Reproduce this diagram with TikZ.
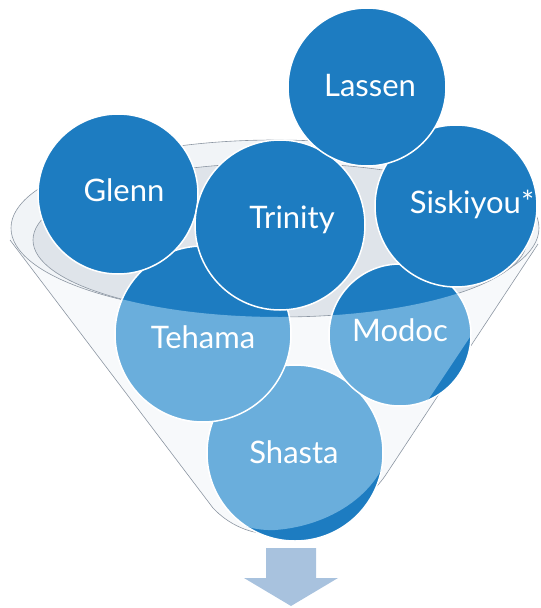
\documentclass[tikz,border=0pt]{standalone}
\usepackage{fontspec}
\setmainfont{Lato}
\usetikzlibrary{positioning}
\definecolor{CountyBlue}{HTML}{1D7CC1}
\definecolor{CountyLight}{HTML}{6AAEDC}
\definecolor{RimGray}{HTML}{8C96A2}
\definecolor{RimFill}{HTML}{DFE4EA}
\definecolor{RimBand}{HTML}{F1F4F7}
\definecolor{GlassFill}{HTML}{F7F9FB}
\definecolor{ArrowBlue}{HTML}{A8C2DE}

\begin{document}
\begin{tikzpicture}[x=1pt, y=-1pt,
    county/.style={font=\fontsize{31}{31}\selectfont, text=white, inner sep=0pt},
    rimline/.style={draw=RimGray, line width=0.6pt}]
\useasboundingbox (0,0) rectangle (541,608);

% Funnel body
\fill[GlassFill] (10,240) -- (213,508) .. controls (228,524) and (250,535) .. (275,534)
    .. controls (320,530) and (365,505) .. (385,476) -- (538,244) -- (538,228) -- (11,228) -- cycle;
\draw[rimline] (10,240) -- (213,508) .. controls (228,524) and (250,535) .. (275,534)
    .. controls (320,530) and (365,505) .. (385,476) -- (538,244);

% Rim of the funnel
\filldraw[fill=RimBand, rimline] (275,228) ellipse [x radius=264pt, y radius=88pt];
\filldraw[fill=RimFill, rimline] (280,240) ellipse [x radius=247pt, y radius=77pt];

% Circles, back to front
\foreach \cx/\cy/\r in {295/453/88, 203/334/88, 400/335/71, 118/194/80, 456/206/81, 280/225/85, 367/87/79}
    \filldraw[fill=CountyBlue, draw=white, line width=1.5pt] (\cx,\cy) circle[radius=\r pt];

% Seen through the glass
\begin{scope}
    \clip (10,240) -- (33,240) .. controls (33,282.5) and (143.6,317) .. (280,317)
        .. controls (416.4,317) and (527,282.5) .. (527,240) -- (532,244) -- (380,472)
        .. controls (360,506) and (318,527) .. (275,530) .. controls (250,531) and (228,522) .. (213,508) -- cycle;
    \foreach \cx/\cy/\r in {295/453/88, 203/334/88, 400/335/71}
        \filldraw[fill=CountyLight, draw=white, line width=1.5pt] (\cx,\cy) circle[radius=\r pt];
\end{scope}

% Labels
\node[county] (lassen) at (370,86) {Lassen};
\node[county] (glenn) at (124,190) {Glenn};
\node[county] (trinity) at (292,220) {Trinity};
\node[county] (siskiyou) at (472,204) {Siskiyou*};
\node[county] (tehama) at (203,337) {Tehama};
\node[county] (modoc) at (400,330) {Modoc};
\node[county] (shasta) at (294,452) {Shasta};

% Arrow out of the funnel
\fill[ArrowBlue] (266,548) -- (316,548) -- (316,578) -- (338,578) -- (291,606) -- (244,578) -- (266,578) -- cycle;
\end{tikzpicture}
\end{document}
